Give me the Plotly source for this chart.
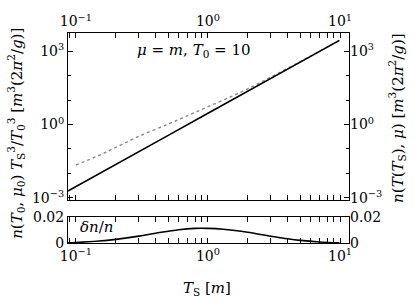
import plotly.graph_objects as go

# ---- data ----
ts_solid = [0.087, 0.1, 0.2, 0.5, 1.0, 2.0, 5.0, 9.9]
n_solid = [0.0019, 0.0029, 0.023, 0.36, 2.9, 23.0, 360.0, 2800.0]

ts_dotted = [0.1, 0.15, 0.2, 0.3, 0.5, 0.7, 1.0, 1.5, 2.0, 3.0, 5.0, 7.0, 9.9]
n_dotted = [0.022, 0.055, 0.115, 0.33, 1.05, 2.3, 5.4, 14.0, 29.0, 88.0, 380.0, 1020.0, 2800.0]

ts_delta = [0.087, 0.1, 0.15, 0.2, 0.3, 0.4, 0.5, 0.6, 0.8, 1.0, 1.3, 1.6, 2.0, 3.0, 4.0, 5.0, 7.0, 9.9]
delta = [0.0002, 0.0004, 0.0015, 0.0028, 0.0053, 0.0075, 0.0090, 0.0102, 0.0112, 0.0112,
         0.0106, 0.0096, 0.0082, 0.0052, 0.0032, 0.0020, 0.0008, 0.0001]

x_major = [0.1, 1, 10]
x_major_text = ["10<sup>−1</sup>", "10<sup>0</sup>", "10<sup>1</sup>"]
y_major = [1e-3, 1, 1e3]
y_major_text = ["10<sup>−3</sup>", "10<sup>0</sup>", "10<sup>3</sup>"]
y2_major = [0, 0.02]
y2_major_text = ["0", "0.02"]

FONT = "DejaVu Serif, serif"
FS_TICK = 14
FS = 15
x_minor = [m * 10 ** e for e in (-2, -1, 0, 1) for m in range(2, 10)]
y_minor = [10.0 ** e for e in range(-4, 5)]

tick_font = dict(family=FONT, size=FS_TICK, color="black")

fig = go.Figure()
fig.add_trace(go.Scatter(x=ts_dotted, y=n_dotted, mode="lines", xaxis="x", yaxis="y",
                         line=dict(color="#8a8a8a", width=1.4, dash="3px,3px", shape="spline"),
                         showlegend=False))
fig.add_trace(go.Scatter(x=ts_solid, y=n_solid, mode="lines", xaxis="x", yaxis="y",
                         line=dict(color="black", width=1.6), showlegend=False))
fig.add_trace(go.Scatter(x=ts_delta, y=delta, mode="lines", xaxis="x2", yaxis="y2",
                         line=dict(color="black", width=1.6, shape="spline"), showlegend=False))

xr = [-1.06, 1.068]
common_x = dict(type="log", range=xr, showline=True, linecolor="black", linewidth=1,
                mirror="allticks", ticks="inside", ticklen=5, tickcolor="black",
                tickvals=x_major, ticktext=x_major_text,
                minor=dict(ticks="inside", ticklen=3, tickcolor="black", tickvals=x_minor),
                showgrid=False, zeroline=False, tickfont=tick_font)

fig.update_layout(
    width=415, height=303,
    margin=dict(l=68, r=66, t=25, b=60),
    paper_bgcolor="white", plot_bgcolor="white",
    font=dict(family=FONT, size=FS, color="black"),
    xaxis=dict(**common_x, anchor="y", side="top", domain=[0, 1]),
    xaxis2=dict(**common_x, anchor="y2", side="bottom", domain=[0, 1]),
    yaxis=dict(type="log", range=[-3.08, 3.75], domain=[0.206, 1], anchor="x",
               showline=True, linecolor="black", linewidth=1, mirror="allticks",
               ticks="inside", ticklen=5, tickcolor="black",
               tickvals=y_major, ticktext=y_major_text,
               minor=dict(ticks="inside", ticklen=3, tickcolor="black", tickvals=y_minor),
               showgrid=False, zeroline=False, tickfont=tick_font),
    yaxis3=dict(type="log", range=[-3.08, 3.75], overlaying="y", side="right", anchor="x",
                showline=False, ticks="", tickvals=y_major, ticktext=y_major_text,
                showgrid=False, zeroline=False, tickfont=tick_font),
    yaxis2=dict(range=[0, 0.02], domain=[0, 0.124], anchor="x2",
                showline=True, linecolor="black", linewidth=1, mirror="allticks",
                ticks="inside", ticklen=4, tickcolor="black",
                tickvals=y2_major, ticktext=y2_major_text,
                showgrid=False, zeroline=False, tickfont=tick_font),
    yaxis4=dict(range=[0, 0.02], overlaying="y2", side="right", anchor="x2",
                showline=False, ticks="", tickvals=y2_major, ticktext=y2_major_text,
                showgrid=False, zeroline=False, tickfont=tick_font),
)

# invisible traces to activate the right-hand overlay axes
fig.add_trace(go.Scatter(x=[1], y=[1], xaxis="x", yaxis="y3", mode="markers",
                         marker=dict(opacity=0), showlegend=False, hoverinfo="skip"))
fig.add_trace(go.Scatter(x=[1], y=[0.01], xaxis="x2", yaxis="y4", mode="markers",
                         marker=dict(opacity=0), showlegend=False, hoverinfo="skip"))

ann_font = dict(family=FONT, size=FS, color="black")
ann_common = dict(xref="paper", yref="paper", showarrow=False, font=ann_font,
                  xanchor="center", yanchor="middle")
fig.add_annotation(**ann_common, x=-0.185, y=0.52, textangle=-90,
                   text="<i>n</i>(<i>T</i><sub>0</sub>, <i>μ</i><sub>0</sub>) <i>T</i><sub>S</sub><sup>3</sup>/<i>T</i><sub>0</sub><sup>3</sup> [<i>m</i><sup>3</sup>(2<i>π</i><sup>2</sup>/<i>g</i>)]")
fig.add_annotation(**ann_common, x=1.171, y=0.596, textangle=-90,
                   text="<i>n</i>(<i>T</i>(<i>T</i><sub>S</sub>), <i>μ</i>) [<i>m</i><sup>3</sup>(2<i>π</i><sup>2</sup>/<i>g</i>)]")
fig.add_annotation(**ann_common, x=0.45, y=0.915,
                   text="<i>μ</i> = <i>m</i>, <i>T</i><sub>0</sub> = 10")
fig.add_annotation(**ann_common, x=0.1, y=0.075,
                   text="<i>δn</i>/<i>n</i>")
fig.add_annotation(**ann_common, x=0.495, y=-0.215,
                   text="<i>T</i><sub>S</sub> [<i>m</i>]")

fig.write_html("out.html", config={"displayModeBar": False},
               post_script="document.body.style.margin='0';document.body.style.padding='0';")
